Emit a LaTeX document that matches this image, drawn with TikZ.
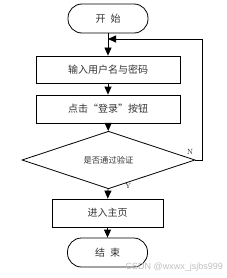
\documentclass[tikz,border=0pt]{standalone}
\usepackage{fontspec}
\newfontfamily\cjk{Noto Sans CJK SC}
\setsansfont{Liberation Sans}
\usetikzlibrary{shapes.geometric,arrows.meta}
\tikzset{
  base/.style={draw=black, line width=0.8pt, inner sep=0pt, text=black!80, font=\cjk\fontsize{10}{12}\selectfont},
  term/.style={base, rectangle, rounded corners=14pt, minimum width=80pt, minimum height=29pt},
  procbox/.style={base, rectangle, minimum height=28pt},
  decide/.style={base, diamond, minimum width=173pt, minimum height=42pt, font=\cjk\fontsize{8.3}{10}\selectfont},
  arr/.style={draw=black, line width=0.8pt, -{Triangle[length=8pt,width=7pt]}},
  lbl/.style={font=\fontsize{7.5}{9}\selectfont, inner sep=0pt, text=black!85}
}
\begin{document}
\begin{tikzpicture}[x=1pt,y=-1pt]
\useasboundingbox (0,0) rectangle (226,278);
\node[term] (start) at (108,18.5) {开\hspace{5pt}始};
\node[procbox, minimum width=144pt, minimum height=27pt] (b1) at (108,69.5) {输入用户名与密码};
\node[procbox, minimum width=144pt] (b2) at (108,109) {点击“登录”按钮};
\node[decide] (dia) at (108.5,160) {是否通过验证};
\node[procbox, minimum width=111pt] (b3) at (107.5,213) {进入主页};
\node[term] (end) at (107.5,252.5) {结\hspace{5pt}束};
\coordinate (fb) at (108,39);
\coordinate (rt) at (202,160);
\draw[arr] (start) -- (b1);
\draw[arr] (b1) -- (b2);
\draw[arr] (b2) -- (dia);
\draw[arr] (dia) -- (b3);
\draw[arr] (b3) -- (end);
\draw[arr] (dia.east) -- (rt) |- (fb);
\node[lbl] (n) at (190,152) {N};
\node[lbl] (y) at (128,186) {Y};
\node[anchor=east, inner sep=0pt, font=\sffamily\fontsize{9}{11}\selectfont, text=black!25] (wm) at (223,267) {CSDN @wxwx\_jsjbs999};
\end{tikzpicture}
\end{document}
